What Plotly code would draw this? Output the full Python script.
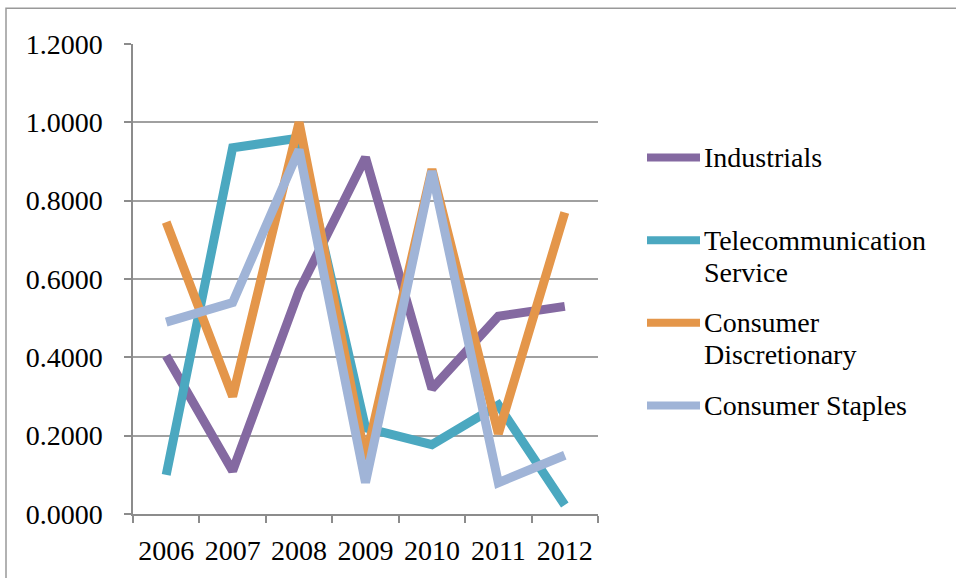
import plotly.graph_objects as go

years = ["2006", "2007", "2008", "2009", "2010", "2011", "2012"]
industrials = [0.404, 0.110, 0.570, 0.910, 0.320, 0.505, 0.530]
telecom = [0.100, 0.935, 0.960, 0.220, 0.177, 0.278, 0.023]
cons_disc = [0.745, 0.300, 1.000, 0.140, 0.880, 0.205, 0.770]
cons_staples = [0.490, 0.540, 0.930, 0.080, 0.875, 0.080, 0.150]

series_names = ["Industrials", "Telecommunication<br>Service", "Consumer<br>Discretionary", "Consumer Staples"]
series_values = [industrials, telecom, cons_disc, cons_staples]
colors = ["#8469A1", "#4BA8C0", "#E4964A", "#A0B4D7"]

FONT = "Liberation Serif"
FS = 28

# plot area in pixels
L, R, T, B = 133, 598, 44, 516
W, H = 956, 578

def px_x(p):
    return (p - L) / (R - L)

def px_y(p):
    return (B - p) / (B - T)

fig = go.Figure()
for name, vals, col in zip(series_names, series_values, colors):
    fig.add_trace(go.Scatter(
        x=years, y=vals, mode="lines", name=name,
        line=dict(color=col, width=9),
        showlegend=False,
    ))

shapes = []
annotations = []
# outer border (top and left visible)
shapes.append(dict(type="rect", xref="paper", yref="paper",
                   x0=px_x(6), x1=px_x(970), y0=px_y(590), y1=px_y(8),
                   line=dict(color="#999999", width=1.5), layer="below"))

legend_y = [158, 241, 324, 407]
for name, col, ly in zip(series_names, colors, legend_y):
    shapes.append(dict(type="line", xref="paper", yref="paper",
                       x0=px_x(647), x1=px_x(700), y0=px_y(ly), y1=px_y(ly),
                       line=dict(color=col, width=8)))
    lines = name.split("<br>")
    for i, t in enumerate(lines):
        annotations.append(dict(xref="paper", yref="paper", x=px_x(702), y=px_y(ly + 32 * i),
                                xanchor="left", yanchor="middle", text=t, showarrow=False,
                                font=dict(family=FONT, size=FS, color="#000000")))

fig.update_layout(
    width=W, height=H,
    margin=dict(l=L, r=W - R, t=T, b=H - B, pad=0),
    paper_bgcolor="white", plot_bgcolor="white",
    shapes=shapes, annotations=annotations,
    font=dict(family=FONT, size=FS, color="#000000"),
    xaxis=dict(
        type="category", range=[-0.5, 6.5], tickson="boundaries",
        ticks="outside", ticklen=7, tickwidth=1.5, tickcolor="#8C8C8C",
        showline=True, linecolor="#8C8C8C", linewidth=1.5,
        showgrid=False, ticklabelstandoff=11,
        tickfont=dict(family=FONT, size=FS, color="#000000"),
    ),
    yaxis=dict(
        range=[0, 1.2], dtick=0.2, tick0=0, tickformat=".4f",
        ticks="outside", ticklen=7, tickwidth=1.5, tickcolor="#8C8C8C",
        showline=True, linecolor="#8C8C8C", linewidth=1.5,
        showgrid=True, gridcolor="#A0A0A0", gridwidth=1.5,
        zeroline=False, ticklabelstandoff=16,
        tickfont=dict(family=FONT, size=FS, color="#000000"),
    ),
)

fig.write_html("out.html")
